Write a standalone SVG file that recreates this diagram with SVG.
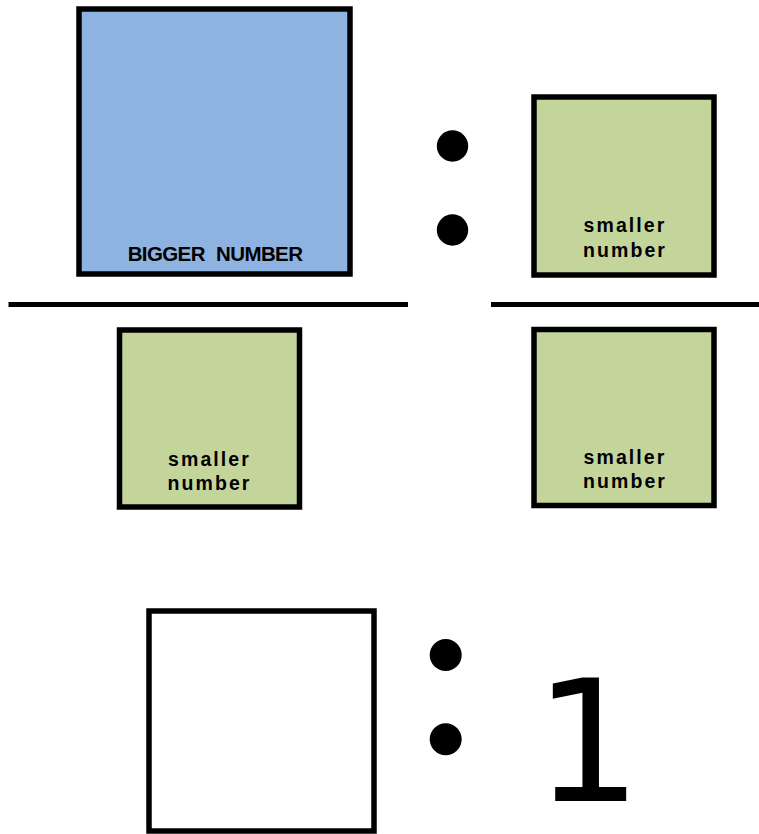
<svg xmlns="http://www.w3.org/2000/svg" width="759" height="834" viewBox="0 0 759 834">
<style>
.box{stroke:#000;stroke-width:5.5}
.blue{fill:#8eb3e1}
.green{fill:#c4d59c}
.white{fill:#fff}
.lbl{font-family:"Liberation Sans",Arial,sans-serif;font-weight:bold;font-size:19.5px;letter-spacing:2.1px;text-anchor:middle;fill:#000}
.big{font-family:"Liberation Sans",Arial,sans-serif;font-weight:bold;font-size:20.5px;text-anchor:middle;fill:#000;letter-spacing:-0.6px;word-spacing:6px}
.dot{fill:#000}
.bar{stroke:#000;stroke-width:5}
</style>
<rect width="759" height="834" fill="#fff"/>
<g id="bigger">
<rect class="box blue" x="79" y="9" width="271" height="265"/>
<text class="big" x="215" y="261">BIGGER NUMBER</text>
</g>
<g id="colon-top">
<circle class="dot" cx="452.5" cy="146" r="15.7"/>
<circle class="dot" cx="452.5" cy="230" r="15.7"/>
</g>
<g id="smaller-top">
<rect class="box green" x="534" y="97" width="180" height="178"/>
<text class="lbl" x="625" y="231.5">smaller</text>
<text class="lbl" x="625" y="256.5">number</text>
</g>
<g id="dividers">
<line class="bar" x1="8.5" y1="304.5" x2="408" y2="304.5"/>
<line class="bar" x1="491" y1="304.5" x2="759" y2="304.5"/>
</g>
<g id="smaller-left">
<rect class="box green" x="119.5" y="330" width="180" height="177"/>
<text class="lbl" x="209.5" y="466">smaller</text>
<text class="lbl" x="209.5" y="490">number</text>
</g>
<g id="smaller-right">
<rect class="box green" x="534" y="329.5" width="180" height="176"/>
<text class="lbl" x="625" y="463.5">smaller</text>
<text class="lbl" x="625" y="488">number</text>
</g>
<g id="answer">
<rect class="box white" x="149" y="611" width="225" height="220"/>
</g>
<g id="colon-bottom">
<circle class="dot" cx="445.7" cy="655" r="16"/>
<circle class="dot" cx="445.7" cy="739.3" r="16"/>
</g>
<g id="one">
<text x="588" y="800.5" font-family="'DejaVu Sans',sans-serif" font-size="169" text-anchor="middle" fill="#000">1</text>
</g>
</svg>
